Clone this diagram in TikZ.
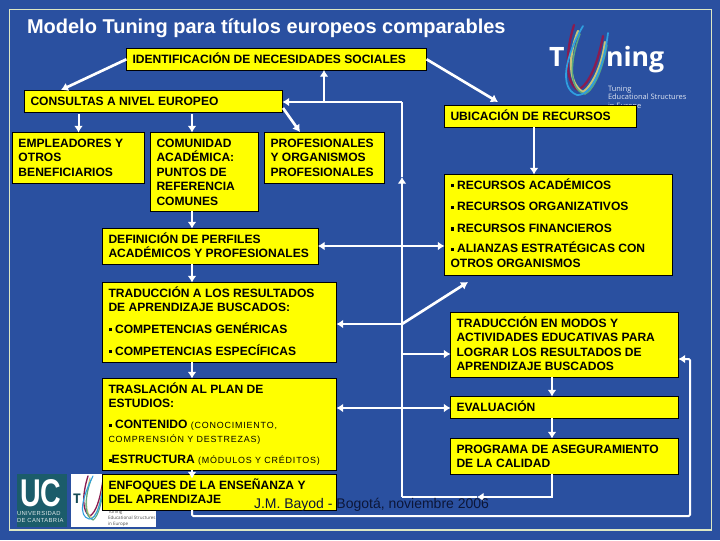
\documentclass[tikz,border=0pt]{standalone}
\usepackage{fontspec}
\usepackage{graphicx}
\setmainfont{Liberation Sans}
\usetikzlibrary{arrows.meta,calc}
\newfontfamily\logofont{Open Sans}
\definecolor{bgblue}{HTML}{2A50A0}
\definecolor{boxy}{HTML}{FFFF00}
\definecolor{framec}{HTML}{DDE8C4}
\definecolor{ucteal}{HTML}{1B5C6A}
\definecolor{foot}{HTML}{0C1638}
\definecolor{rm}{HTML}{8A1C50}
\definecolor{rb}{HTML}{2F9FE0}
\definecolor{rk}{HTML}{C8C478}
\definecolor{rg}{HTML}{58A880}
\tikzset{
  ybox/.style={draw=black,fill=boxy,line width=.75pt,inner xsep=4.5pt,inner ysep=0pt,outer sep=0pt,anchor=north west},
  wline/.style={draw=white,line width=1.5pt},
  arr/.style={wline,-{Latex[length=5pt,width=6.6pt]}},
  darr/.style={wline,{Latex[length=5pt,width=6.6pt]}-{Latex[length=5pt,width=6.6pt]}},
  fat/.style={draw=white,line width=2pt,-{Latex[length=5.25pt,width=6.75pt]}},
  txt/.style={inner sep=0pt,outer sep=0pt,anchor=base west},
  ribbon/.style={line width=1.7pt,line cap=round}
}
\newcommand\ybx[6][9.05]{%
  \pgfmathsetlengthmacro\bw{(#5-#3)*.75-9}%
  \pgfmathsetlengthmacro\bh{(#6-#4)*.75}%
  \node[ybox] (#2) at (#3,#4) {\parbox[c][\bh][t]{\bw}{\fontsize{#1}{10.9}\selectfont\bfseries\raggedright\rule{0pt}{10.9pt}\BOXT}};%
}
\newcommand\bul{\rule[1.5pt]{2.4pt}{2.4pt}}
\newcommand\smallt[1]{{\fontsize{6.7}{10}\selectfont\mdseries\addfontfeature{LetterSpace=9}#1}}
\begin{document}
\begin{tikzpicture}[x=.75pt,y=-.75pt]
\useasboundingbox (0,0) rectangle (720,540);
\fill[bgblue] (0,0) rectangle (720,540);
\draw[framec,line width=.8pt] (9.5,9.5) rectangle (711.5,530);
\node[txt,text=white,font=\fontsize{15}{17}\selectfont\bfseries] (title) at (27,33) {Modelo Tuning para títulos europeos comparables};
% top right logo
\draw[ribbon,rm] (574,25) .. controls (566,50) and (564,82) .. (578,90) .. controls (590,84) and (598,62) .. (603,36);
\draw[ribbon,rk] (578,31) .. controls (568,55) and (568,84) .. (583,92) .. controls (592,86) and (602,66) .. (605,42);
\draw[ribbon,rg,line width=1.1pt] (580,34) .. controls (570,60) and (568,90) .. (585,94) .. controls (594,90) and (603,68) .. (607,45);
\draw[ribbon,rb,line width=1.3pt] (583,26) .. controls (566,55) and (558,88) .. (577,95) .. controls (592,96) and (604,66) .. (608,33);
\node[txt,text=white,font=\logofont\fontsize{20}{20}\selectfont\bfseries] (logoT) at (549,66) {T};
\node[txt,text=white,font=\logofont\fontsize{20}{20}\selectfont\bfseries] (logoN) at (606,66) {ning};
\node[txt,text=white!85!bgblue,font=\logofont\fontsize{5.6}{8}\selectfont] (logoa) at (608,91) {Tuning};
\node[txt,text=white!85!bgblue,font=\logofont\fontsize{5.6}{8}\selectfont] (logob) at (608,99.5) {Educational Structures};
\node[txt,text=white!85!bgblue,font=\logofont\fontsize{5.6}{8}\selectfont] (logoc) at (608,108) {in Europe};
% bottom left logos
\fill[ucteal] (16.5,474) rectangle (66.5,527);
\node[txt,text=white,font=\fontsize{29}{29}\selectfont\bfseries] (uc) at (20,506) {\scalebox{.74}[1]{UC}};
\node[txt,text=white!85!ucteal,font=\fontsize{4.4}{6}\selectfont] (uca) at (17,515.5) {\addfontfeature{LetterSpace=6}UNIVERSIDAD};
\node[txt,text=white!85!ucteal,font=\fontsize{4.4}{6}\selectfont] (ucb) at (17,522.5) {\addfontfeature{LetterSpace=6}DE CANTABRIA};
\fill[white] (71,474) rectangle (156,527);
\node[txt,text=ucteal!80!black,font=\logofont\fontsize{10}{10}\selectfont\bfseries] (tt) at (73,503) {T};
\draw[ribbon,rm,line width=1pt] (88,476) .. controls (82,495) and (82,512) .. (90,516) .. controls (96,512) and (100,500) .. (103,480);
\draw[ribbon,rk,line width=.8pt] (90,478) .. controls (85,498) and (85,514) .. (92,518) .. controls (98,514) and (101,500) .. (103,484);
\draw[ribbon,rg,line width=.8pt] (91,480) .. controls (84,500) and (84,517) .. (93,520) .. controls (99,516) and (102,500) .. (104,486);
\draw[ribbon,rb,line width=.8pt] (93,476) .. controls (82,498) and (78,516) .. (89,519) .. controls (97,520) and (102,500) .. (104,478);
\node[txt,text=black!70,font=\logofont\fontsize{3.4}{5}\selectfont] (sa) at (108,513.5) {Tuning};
\node[txt,text=black!70,font=\logofont\fontsize{3.4}{5}\selectfont] (sb) at (108,519) {Educational Structures};
\node[txt,text=black!70,font=\logofont\fontsize{3.4}{5}\selectfont] (sc) at (108,525) {in Europe};
% boxes
\def\BOXT{IDENTIFICACIÓN DE NECESIDADES SOCIALES}\ybx{iden}{126.5}{48.5}{426.5}{70}
\def\BOXT{CONSULTAS A NIVEL EUROPEO}\ybx{cons}{24.5}{90.5}{282.5}{112}
\def\BOXT{EMPLEADORES Y\\OTROS\\BENEFICIARIOS}\ybx{empl}{12.5}{132.5}{144.5}{183}
\def\BOXT{COMUNIDAD\\ACADÉMICA:\\PUNTOS DE\\REFERENCIA\\COMUNES}\ybx{comu}{150.5}{132.5}{258}{211}
\def\BOXT{PROFESIONALES\\Y ORGANISMOS\\PROFESIONALES}\ybx{prof}{264.5}{132.5}{384.5}{183}
\def\BOXT{DEFINICIÓN DE PERFILES\\ACADÉMICOS Y PROFESIONALES}\ybx{defi}{102.5}{228.5}{318}{264}
\def\BOXT{UBICACIÓN DE RECURSOS}\ybx{ubic}{444.5}{105.5}{636.5}{127}
\def\BOXT{\bul\ RECURSOS ACADÉMICOS\\[5.4pt]\bul\ RECURSOS ORGANIZATIVOS\\[5.4pt]\bul\ RECURSOS FINANCIEROS\\[4.4pt]\bul\ ALIANZAS ESTRATÉGICAS CON\\OTROS ORGANISMOS}\ybx{recu}{444.5}{174.5}{672.5}{275}
\def\BOXT{TRADUCCIÓN A LOS RESULTADOS\\DE APRENDIZAJE BUSCADOS:\\[5.4pt]\bul\ COMPETENCIAS GENÉRICAS\\[5.4pt]\bul\ COMPETENCIAS ESPECÍFICAS}\ybx{trad}{102.5}{282.5}{336.5}{362}
\def\BOXT{TRASLACIÓN AL PLAN DE\\ESTUDIOS:\\[5.1pt]\bul\ CONTENIDO \smallt{(CONOCIMIENTO,}\\[-.6pt]\smallt{COMPRENSIÓN Y DESTREZAS)}\\[5pt]\bul ESTRUCTURA \smallt{(MÓDULOS Y CRÉDITOS)}}\ybx{tras}{102.5}{378.5}{336.5}{470}
\def\BOXT{ENFOQUES DE LA ENSEÑANZA Y\\DEL APRENDIZAJE}\ybx{enfo}{102.5}{474.5}{336.5}{510}
\def\BOXT{TRADUCCIÓN EN MODOS Y\\ACTIVIDADES EDUCATIVAS PARA\\LOGRAR LOS RESULTADOS DE\\APRENDIZAJE BUSCADOS}\ybx{tmod}{450.5}{312.5}{678.5}{377}
\def\BOXT{EVALUACIÓN}\ybx{eval}{450.5}{396.5}{678.5}{418}
\def\BOXT{PROGRAMA DE ASEGURAMIENTO\\DE LA CALIDAD}\ybx{prog}{450.5}{438.5}{678.5}{474}
% junctions
\coordinate (a1) at (78.5,114);
\coordinate (a2) at (192,114);
\coordinate (x192) at (192,300);
\coordinate (x324) at (324,102);
\coordinate (j1) at (402,102);
\coordinate (m1) at (402,177);
\coordinate (j2) at (402,246);
\coordinate (j3) at (402,324);
\coordinate (j4) at (402,354);
\coordinate (j5) at (402,408);
\coordinate (m2) at (402,430);
\coordinate (j6) at (402,497);
\coordinate (x552) at (552,300);
\coordinate (m3) at (477,497);
\coordinate (x534) at (534,300);
\coordinate (r1) at (192,516);
\coordinate (r2) at (690,516);
\coordinate (r3) at (690,359);
\coordinate (dg) at (468,282);
\coordinate (ci) at (61,90);
\coordinate (ui) at (498,102);
\coordinate (cp0) at (283,108);
\coordinate (cp1) at (300,132);
% connectors
\draw[fat] (iden.west) -- (ci);
\draw[fat] (iden.east) -- (ui);
\draw[fat] (cp0) -- (cp1);
\draw[arr] (a1) -- (a1 |- empl.north);
\draw[arr] (a2) -- (a2 |- comu.north);
\draw[arr] (x192 |- comu.south) -- (x192 |- defi.north);
\draw[arr] (x192 |- defi.south) -- (x192 |- trad.north);
\draw[arr] (x192 |- trad.south) -- (x192 |- tras.north);
\draw[arr] (x192 |- tras.south) -- ($(x192 |- enfo.north)+(0,4)$);
\draw[arr] (j1) -- (j1 -| cons.east);
\draw[arr] (x324) -- (x324 |- iden.south);
\draw[wline] (m1) -- (j1);
\draw[arr] (m2) -- (m1);
\draw[wline] (j6) -- (m2);
\draw[arr] (x552 |- prog.south) -- (x552 |- j6) -- (m3);
\draw[wline] (m3) -- (j6);
\draw[darr] (j2 -| defi.east) -- (j2 -| recu.west);
\draw[arr] (j3) -- (j3 -| trad.east);
\draw[fat] (j3) -- (dg);
\draw[arr] (j4) -- (j4 -| tmod.west);
\draw[darr] (j5 -| tras.east) -- (j5 -| eval.west);
\draw[arr] (x534 |- ubic.south) -- (x534 |- recu.north);
\draw[arr] (x552 |- tmod.south) -- (x552 |- eval.north);
\draw[arr] (x552 |- eval.south) -- (x552 |- prog.north);
\draw[arr,rounded corners=1pt] (r1 |- enfo.south) -- (r1) -- (r2) -- (r3) -- (r3 -| tmod.east);
\node[txt,text=foot,font=\fontsize{10.5}{12}\selectfont] (foot) at (254,508.5) {J.M. Bayod - Bogotá, noviembre 2006};
\end{tikzpicture}
\end{document}
